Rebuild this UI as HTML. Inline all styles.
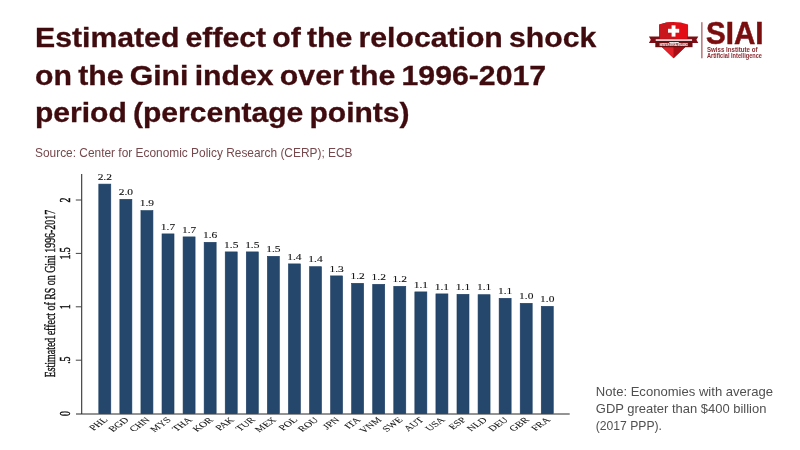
<!DOCTYPE html>
<html lang="en"><head><meta charset="utf-8"><title>Estimated effect of the relocation shock on the Gini index</title>
<style>
html,body{margin:0;padding:0;background:#fff;}
body{width:800px;height:450px;overflow:hidden;}
svg{display:block;}
.sans{font-family:"Liberation Sans",Arial,sans-serif;}
.serif{font-family:"Liberation Serif","Times New Roman",serif;}
</style></head><body>
<svg width="800" height="450" viewBox="0 0 800 450">
<defs><filter id="noop" x="0" y="0" width="800" height="450" filterUnits="userSpaceOnUse"><feOffset dx="0" dy="0"/></filter><filter id="soft" x="0" y="160" width="600" height="290" filterUnits="userSpaceOnUse"><feGaussianBlur stdDeviation="0.45"/></filter><filter id="soft2" x="640" y="10" width="140" height="60" filterUnits="userSpaceOnUse"><feGaussianBlur stdDeviation="0.3"/></filter></defs>
<rect x="0" y="0" width="800" height="450" fill="#ffffff"/>
<g filter="url(#noop)">
<g class="sans" font-weight="700" font-size="27.6" fill="#3f0b0e" stroke="#3f0b0e" stroke-width="0.3" word-spacing="-2">
<text x="35.0" y="47.3" textLength="561.3" lengthAdjust="spacingAndGlyphs">Estimated effect of the relocation shock</text>
<text x="35.0" y="85.0" textLength="511.1" lengthAdjust="spacingAndGlyphs">on the Gini index over the 1996-2017</text>
<text x="35.0" y="121.8" textLength="374.6" lengthAdjust="spacingAndGlyphs">period (percentage points)</text>
</g>
<text class="sans" font-size="13.0" fill="#76484c" x="35.0" y="156.5" textLength="317.5" lengthAdjust="spacingAndGlyphs">Source: Center for Economic Policy Research (CERP); ECB</text>
<g class="sans" font-size="13.0" fill="#505050">
<text x="595.8" y="395.8" textLength="177.2" lengthAdjust="spacingAndGlyphs">Note: Economies with average</text>
<text x="595.8" y="412.8" textLength="170.6" lengthAdjust="spacingAndGlyphs">GDP greater than $400 billion</text>
<text x="595.8" y="429.6" textLength="66.2" lengthAdjust="spacingAndGlyphs">(2017 PPP).</text>
</g>
<g id="chart" filter="url(#soft)">
<g fill="#25466c" stroke="#1d3e63" stroke-width="0.6">
<rect x="98.80" y="184.1" width="12.00" height="229.5"/>
<rect x="119.87" y="199.3" width="12.00" height="214.3"/>
<rect x="140.94" y="210.6" width="12.00" height="203.0"/>
<rect x="162.01" y="233.9" width="12.00" height="179.7"/>
<rect x="183.08" y="236.9" width="12.00" height="176.7"/>
<rect x="204.15" y="242.3" width="12.00" height="171.3"/>
<rect x="225.22" y="251.9" width="12.00" height="161.7"/>
<rect x="246.29" y="251.9" width="12.00" height="161.7"/>
<rect x="267.36" y="256.3" width="12.00" height="157.3"/>
<rect x="288.43" y="263.9" width="12.00" height="149.7"/>
<rect x="309.50" y="266.7" width="12.00" height="146.9"/>
<rect x="330.57" y="275.9" width="12.00" height="137.7"/>
<rect x="351.64" y="283.3" width="12.00" height="130.3"/>
<rect x="372.71" y="284.3" width="12.00" height="129.3"/>
<rect x="393.78" y="286.3" width="12.00" height="127.3"/>
<rect x="414.85" y="291.9" width="12.00" height="121.7"/>
<rect x="435.92" y="293.9" width="12.00" height="119.7"/>
<rect x="456.99" y="294.3" width="12.00" height="119.3"/>
<rect x="478.06" y="294.7" width="12.00" height="118.9"/>
<rect x="499.13" y="298.3" width="12.00" height="115.3"/>
<rect x="520.20" y="303.3" width="12.00" height="110.3"/>
<rect x="541.27" y="306.3" width="12.00" height="107.3"/>
</g>
<g stroke="#2a2a2a" stroke-width="1.05" fill="none">
<line x1="81.7" y1="174" x2="81.7" y2="414.0"/>
<line x1="76" y1="413.90000000000003" x2="569.7" y2="413.90000000000003"/>
<line x1="75.8" y1="360.2" x2="81.7" y2="360.2" stroke="#444" stroke-width="1.0"/>
<line x1="75.8" y1="306.8" x2="81.7" y2="306.8" stroke="#444" stroke-width="1.0"/>
<line x1="75.8" y1="253.4" x2="81.7" y2="253.4" stroke="#444" stroke-width="1.0"/>
<line x1="75.8" y1="200.0" x2="81.7" y2="200.0" stroke="#444" stroke-width="1.0"/>
</g>
<g class="serif" font-size="9.8" fill="#111" stroke="#111" stroke-width="0.3" text-anchor="middle">
<text transform="translate(70.2,413.6) scale(1.55,1) rotate(-90)">0</text>
<text transform="translate(70.2,360.2) scale(1.55,1) rotate(-90)">.5</text>
<text transform="translate(70.2,306.8) scale(1.55,1) rotate(-90)">1</text>
<text transform="translate(70.2,253.4) scale(1.55,1) rotate(-90)">1.5</text>
<text transform="translate(70.2,200.0) scale(1.55,1) rotate(-90)">2</text>
</g>
<text class="serif" font-size="9.9" fill="#111" stroke="#111" stroke-width="0.25" text-anchor="middle" transform="translate(54.8,293.6) scale(1.56,1) rotate(-90)" >Estimated effect of RS on Gini 1996-2017</text>
<g class="serif" font-size="8.3" fill="#111" stroke="#111" stroke-width="0.1" text-anchor="middle">
<text transform="translate(104.80,179.8) scale(1.38,1)">2.2</text>
<text transform="translate(125.87,195.0) scale(1.38,1)">2.0</text>
<text transform="translate(146.94,206.3) scale(1.38,1)">1.9</text>
<text transform="translate(168.01,229.6) scale(1.38,1)">1.7</text>
<text transform="translate(189.08,232.6) scale(1.38,1)">1.7</text>
<text transform="translate(210.15,238.0) scale(1.38,1)">1.6</text>
<text transform="translate(231.22,247.6) scale(1.38,1)">1.5</text>
<text transform="translate(252.29,247.6) scale(1.38,1)">1.5</text>
<text transform="translate(273.36,252.0) scale(1.38,1)">1.5</text>
<text transform="translate(294.43,259.6) scale(1.38,1)">1.4</text>
<text transform="translate(315.50,262.4) scale(1.38,1)">1.4</text>
<text transform="translate(336.57,271.6) scale(1.38,1)">1.3</text>
<text transform="translate(357.64,279.0) scale(1.38,1)">1.2</text>
<text transform="translate(378.71,280.0) scale(1.38,1)">1.2</text>
<text transform="translate(399.78,282.0) scale(1.38,1)">1.2</text>
<text transform="translate(420.85,287.6) scale(1.38,1)">1.1</text>
<text transform="translate(441.92,289.6) scale(1.38,1)">1.1</text>
<text transform="translate(462.99,290.0) scale(1.38,1)">1.1</text>
<text transform="translate(484.06,290.4) scale(1.38,1)">1.1</text>
<text transform="translate(505.13,294.0) scale(1.38,1)">1.1</text>
<text transform="translate(526.20,299.0) scale(1.38,1)">1.0</text>
<text transform="translate(547.27,302.0) scale(1.38,1)">1.0</text>
</g>
<g class="serif" font-size="7.9" fill="#111" stroke="#111" stroke-width="0.05" text-anchor="end">
<text transform="translate(108.40,420.4) scale(1.42,1) rotate(-45)">PHL</text>
<text transform="translate(129.47,420.4) scale(1.42,1) rotate(-45)">BGD</text>
<text transform="translate(150.54,420.4) scale(1.42,1) rotate(-45)">CHN</text>
<text transform="translate(171.61,420.4) scale(1.42,1) rotate(-45)">MYS</text>
<text transform="translate(192.68,420.4) scale(1.42,1) rotate(-45)">THA</text>
<text transform="translate(213.75,420.4) scale(1.42,1) rotate(-45)">KOR</text>
<text transform="translate(234.82,420.4) scale(1.42,1) rotate(-45)">PAK</text>
<text transform="translate(255.89,420.4) scale(1.42,1) rotate(-45)">TUR</text>
<text transform="translate(276.96,420.4) scale(1.42,1) rotate(-45)">MEX</text>
<text transform="translate(298.03,420.4) scale(1.42,1) rotate(-45)">POL</text>
<text transform="translate(319.10,420.4) scale(1.42,1) rotate(-45)">ROU</text>
<text transform="translate(340.17,420.4) scale(1.42,1) rotate(-45)">JPN</text>
<text transform="translate(361.24,420.4) scale(1.42,1) rotate(-45)">ITA</text>
<text transform="translate(382.31,420.4) scale(1.42,1) rotate(-45)">VNM</text>
<text transform="translate(403.38,420.4) scale(1.42,1) rotate(-45)">SWE</text>
<text transform="translate(424.45,420.4) scale(1.42,1) rotate(-45)">AUT</text>
<text transform="translate(445.52,420.4) scale(1.42,1) rotate(-45)">USA</text>
<text transform="translate(466.59,420.4) scale(1.42,1) rotate(-45)">ESP</text>
<text transform="translate(487.66,420.4) scale(1.42,1) rotate(-45)">NLD</text>
<text transform="translate(508.73,420.4) scale(1.42,1) rotate(-45)">DEU</text>
<text transform="translate(529.80,420.4) scale(1.42,1) rotate(-45)">GBR</text>
<text transform="translate(550.87,420.4) scale(1.42,1) rotate(-45)">FRA</text>
</g>
</g>
<g id="logo" filter="url(#soft2)">
<!-- shield -->
<path d="M659.2 24.4 Q673.6 19.8 688.05 24.4 L688.05 42 Q688.05 44.5 686.6 45.8 L673.6 58.2 L660.6 45.8 Q659.2 44.5 659.2 42 Z" fill="#e30a17"/>
<path d="M659.2 24.4 Q666.4 22.1 673.6 22.1 L673.6 44 L659.2 44 Z" fill="#c8141d"/>
<path d="M659.2 42 Q659.2 44.5 660.6 45.8 L673.6 58.2 L673.6 42 Z" fill="#e0202a"/>
<path d="M688.05 43 Q688.05 44.8 686.6 45.8 L673.6 58.2 L673.6 43 Z" fill="#aa0e18"/>
<!-- cross -->
<rect x="671.6" y="25.3" width="3.9" height="11.3" fill="#fff"/>
<rect x="668.0" y="28.8" width="11.2" height="3.9" fill="#fff"/>
<!-- ribbon tails -->
<path d="M648.9 36.4 L659.7 36.4 L659.7 43.0 L648.9 43.0 L650.8 39.7 Z" fill="#7d0f15"/>
<path d="M698.3 36.4 L687.5 36.4 L687.5 43.0 L698.3 43.0 L696.4 39.7 Z" fill="#7d0f15"/>
<!-- ribbon band -->
<rect x="655.3" y="38.9" width="37.2" height="8.3" fill="#6d0a10"/>
<rect x="655.7" y="39.3" width="36.4" height="1.5" fill="#ffffff"/>
<text class="sans" font-weight="700" font-size="1.9" fill="#ffffff" stroke="#ffffff" stroke-width="0.2" text-anchor="middle" x="674.1" y="42.9" textLength="9.3" lengthAdjust="spacingAndGlyphs">SWISS</text>
<text class="sans" font-weight="700" font-size="2.6" fill="#ffffff" stroke="#ffffff" stroke-width="0.12" text-anchor="middle" x="673.7" y="45.7" textLength="27.9" lengthAdjust="spacingAndGlyphs">INSTITUTE OF ARTIFICIAL INTELLIGENCE</text>
<!-- divider -->
<rect x="701.4" y="22.2" width="1" height="36.1" fill="#8f3337"/>
<!-- wordmark -->
<text class="sans" font-weight="700" font-size="30.5" fill="#7a0a10" stroke="#7a0a10" stroke-width="0.5" x="706.1" y="43.8" textLength="57.5" lengthAdjust="spacingAndGlyphs">SIAI</text>
<text class="sans" font-weight="700" font-size="7.1" fill="#8a2a30" x="706.9" y="52.3" textLength="50.6" lengthAdjust="spacingAndGlyphs">Swiss Institute of</text>
<text class="sans" font-weight="700" font-size="7.1" fill="#8a2a30" x="707.0" y="58.4" textLength="55.0" lengthAdjust="spacingAndGlyphs">Artificial Intelligence</text>
</g>
</g></svg></body></html>
